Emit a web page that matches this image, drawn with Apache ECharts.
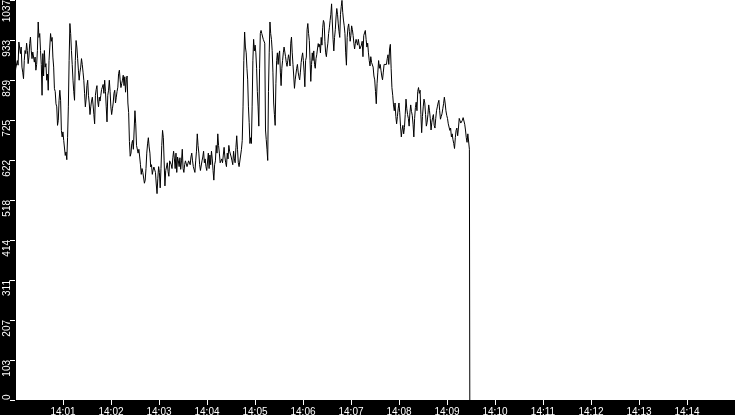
<!DOCTYPE html>
<html><head><meta charset="utf-8">
<script src="https://cdn.jsdelivr.net/npm/echarts@6/dist/echarts.min.js"></script>
<style>html,body{margin:0;padding:0;background:#000;}#c{width:735px;height:415px;}</style>
</head><body><div id="c"></div>
<script>
// values, in four consecutive time segments
const part1 = [845,860,855,880,868,928,924,898,915,863,850,833,880,906,898,925,906,872,889,924,941,906,885,902,898,876,889,855,870,906,980,940,950,906,870,790,898,840,906,863,872,829,845,803,880,915,950,930,940,889,863,807,800,768,760,712,725,777,803,777,699,682,695,673,673,634,643,623,680,760,880,976,950,906,870,829,800,777,880,932,915,885,855,829,850,863,885,870,850,829,795,760,780,815,829,790,770,740,760,775,785,765,740,716,790,805,815,775,760,785,775,790,805,811,818,795,829,800,760,721,790,803,829,800,760,740,755,770,795,803,770,785,800,811,846,855,830,810,820,829,842,815,838,798,830,840,770,745,670,632];
const part2 = [640,665,673,650,700,750,716,660,656,640,650,630,610,585,600,590,590,562,570,600,640,664,680,656,640,604,610,585,596,604,600,590,560,535,575,605,590,550,600,660,699,680,620,555,595,604,615,592,580,620,625,610,600,628,645,625,600,640,590,630,620,605,628,598,620,650,600,590,610,620,615,605,612,620,615,610,630,640,620,605,600,590,620,645,690,660,640,610,595,590,620,630,645,615,625,605,595,600,640,600,635,610,645,625,595,570,610,620,660,640,690,660,640,615,610,625,615,635,655,630,615,605,640,625,660,645,650,630,620,610,645,625,615,655,685,650,615,605,600,610,650,673,760,880,954,915];
const part3 = [900,860,830,760,720,665,680,665,760,880,935,905,920,900,860,800,760,710,860,950,958,950,945,935,935,925,700,675,650,621,800,900,980,950,935,906,850,770,740,712,820,880,900,870,895,905,850,815,860,880,900,915,918,890,875,865,880,895,885,866,925,941,900,870,840,808,830,845,860,870,850,838,830,850,875,889,900,880,850,812,880,889,960,976,950,932,880,826,870,900,880,905,870,860,885,895,910,924,915,922,900,940,920,965,984,978,930,900,890,910,925,950,965,984,1000,1027,980,935,905,940,960,993,1015,1000,975,955,940,1000,1020,1036,1005,985,970,950,900,868,940,965,975,955,930,945,970,960,945,925,910,925,935,930,920,935,940,910];
const part4 = [920,930,890,945,950,958,935,915,925,900,880,866,890,875,880,863,840,830,800,768,820,850,880,860,870,855,840,830,850,870,875,865,870,885,895,870,910,922,860,810,790,765,750,770,735,716,735,755,770,745,710,682,700,712,690,706,740,780,755,740,730,710,745,765,748,738,715,682,730,758,772,750,800,810,795,803,740,693,735,760,780,770,740,710,720,740,765,750,730,700,720,732,740,712,705,730,750,760,770,777,750,728,735,742,755,768,785,770,750,738,730,716,712,699,705,682,690,675,665,652,680,699,705,685,705,730,725,718,720,725,732,728,715,700,680,668,690,695,650];
// time span (seconds after 14:00:00) covered by each segment
const partStartSec = [0, 145, 289, 433];
const partEndSec = [144, 288, 431, 568];
const dropSec = 568.5;
const dropValue = 0;

const xTickSec = [60,120,180,240,300,360,420,480,540,600,660,720,780,840];
const xTickLabels = ['14:01','14:02','14:03','14:04','14:05','14:06','14:07','14:08','14:09','14:10','14:11','14:12','14:13','14:14'];
const yTickValues = [0,103.7,207.4,311.1,414.8,518.5,622.2,725.9,829.6,933.3,1037];
const yTickLabels = ['0','103','207','311','414','518','622','725','829','933','1037'];

const data = [];
[part1, part2, part3, part4].forEach((p, k) => {
  const s = partStartSec[k], e = partEndSec[k];
  p.forEach((v, i) => data.push([s + (e - s) * i / (p.length - 1), v]));
});
data.push([dropSec, dropValue]);

function nearestLabel(vals, labels, v) {
  let best = 0;
  for (let i = 1; i < vals.length; i++) if (Math.abs(vals[i] - v) < Math.abs(vals[best] - v)) best = i;
  return labels[best];
}

const chart = echarts.init(document.getElementById('c'), null, {renderer: 'canvas'});
chart.setOption({
  backgroundColor: '#000',
  animation: false,
  grid: {left: 15, right: 0, top: 0, bottom: 15, show: true, backgroundColor: '#fff', borderWidth: 0, containLabel: false, outerBoundsMode: 'none'},
  xAxis: {
    type: 'value', min: 0, max: 900, interval: 60,
    axisLine: {show: true, onZero: false, lineStyle: {color: '#000', width: 1}},
    splitLine: {show: false},
    axisTick: {show: true, length: 5, lineStyle: {color: '#fff', width: 1}},
    axisLabel: {color: '#fff', fontFamily: 'Liberation Sans', fontSize: 10, margin: 7,
      showMinLabel: false, showMaxLabel: false,
      formatter: v => nearestLabel(xTickSec, xTickLabels, v)}
  },
  yAxis: {
    type: 'value', min: 0, max: 1037, interval: 103.7,
    axisLine: {show: true, onZero: false, lineStyle: {color: '#000', width: 1}},
    splitLine: {show: false},
    axisTick: {show: true, length: 5, lineStyle: {color: '#fff', width: 1}},
    axisLabel: {color: '#fff', fontFamily: 'Liberation Sans', fontSize: 10, rotate: 90, margin: 3,
      align: 'right', alignMinLabel: 'left', alignMaxLabel: 'right',
      formatter: v => nearestLabel(yTickValues, yTickLabels, v)}
  },
  series: [{
    type: 'line', data: data, showSymbol: false, symbol: 'none',
    lineStyle: {color: '#000', width: 1}
  }]
});
</script></body></html>
